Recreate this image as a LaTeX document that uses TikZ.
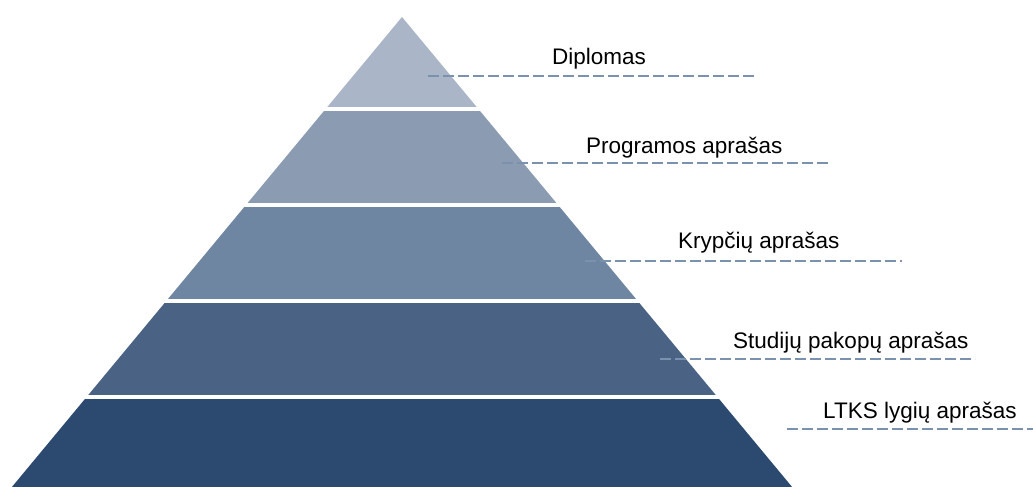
\documentclass[tikz,border=0pt]{standalone}
\usepackage{fontspec}
\setmainfont{Liberation Sans}
\definecolor{bandA}{RGB}{170,182,200}
\definecolor{bandB}{RGB}{138,155,178}
\definecolor{bandC}{RGB}{111,134,163}
\definecolor{bandD}{RGB}{74,98,132}
\definecolor{bandE}{RGB}{44,73,111}
\definecolor{leader}{RGB}{122,146,173}
\begin{document}
\begin{tikzpicture}[x=1pt,y=-1pt,
  lbl/.style={anchor=base west,inner sep=0pt,font=\fontsize{22.5}{27}\selectfont,text=black},
  leaderline/.style={draw=leader,line width=1.3pt,dash pattern=on 11pt off 4pt}]
\useasboundingbox (0,0) rectangle (1033,487);
\begin{scope}
  \clip (402,17) -- (11.9,487) -- (792.1,487) -- cycle;
  \fill[bandA] (0,0) rectangle (1033,107);
  \fill[bandB] (0,111) rectangle (1033,203);
  \fill[bandC] (0,207) rectangle (1033,299);
  \fill[bandD] (0,303) rectangle (1033,395);
  \fill[bandE] (0,399) rectangle (1033,490);
\end{scope}
% labels
\node[lbl] (t1) at (552,65) {Diplomas};
\node[lbl] (t2) at (586,153) {Programos aprašas};
\node[lbl] (t3) at (678,248) {Krypčių aprašas};
\node[lbl] (t4) at (733,348) {Studijų pakopų aprašas};
\node[lbl] (t5) at (823,418) {LTKS lygių aprašas};
% leader lines
\coordinate (a1) at (428,76);  \coordinate (b1) at (755,76);
\coordinate (a2) at (502,163); \coordinate (b2) at (830,163);
\coordinate (a3) at (585,261); \coordinate (b3) at (902,261);
\coordinate (a4) at (660,359); \coordinate (b4) at (975,359);
\coordinate (a5) at (787,429); \coordinate (b5) at (1033,429);
\draw[leaderline] (a1) -- (b1);
\draw[leaderline] (a2) -- (b2);
\draw[leaderline] (a3) -- (b3);
\draw[leaderline] (a4) -- (b4);
\draw[leaderline] (a5) -- (b5);
\end{tikzpicture}
\end{document}
